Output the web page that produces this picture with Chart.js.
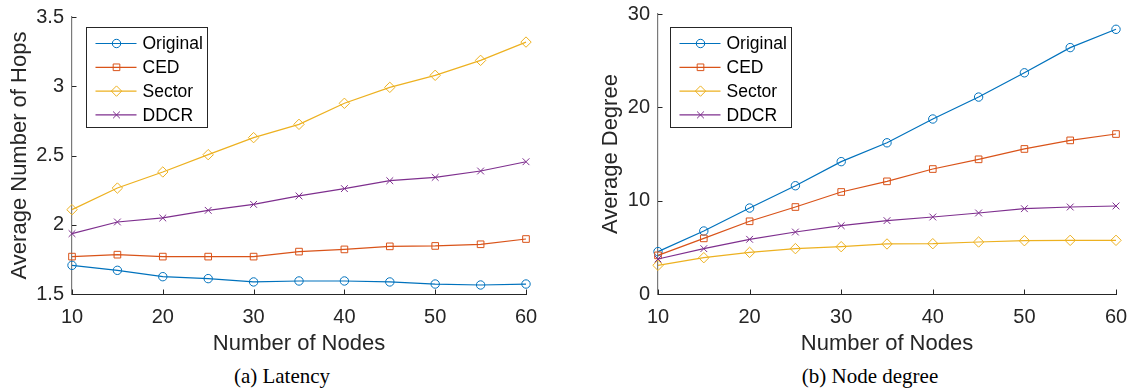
<!DOCTYPE html>
<html><head><meta charset="utf-8">
<script src="https://cdn.jsdelivr.net/npm/chart.js@4.4.1/dist/chart.umd.min.js"></script>
<style>
html,body{margin:0;padding:0;background:#fff;width:1130px;height:388px;overflow:hidden}
.panel{position:absolute;top:0}
.cap{position:absolute;font-family:"Liberation Serif","Times New Roman",serif;font-size:21px;color:#000;white-space:nowrap;transform:translate(-50%,-50%)}
</style></head><body>
<canvas id="c1" class="panel" width="560" height="360" style="left:0"></canvas>
<canvas id="c2" class="panel" width="565" height="360" style="left:565px"></canvas>
<div class="cap" style="left:282px;top:376px">(a) Latency</div>
<div class="cap" style="left:870px;top:376px">(b) Node degree</div>
<script>
// ---- data ----
const nodes = [10, 15, 20, 25, 30, 35, 40, 45, 50, 55, 60];
const seriesNames = ['Original', 'CED', 'Sector', 'DDCR'];
const hopsOriginal = [1.707, 1.671, 1.625, 1.611, 1.587, 1.594, 1.594, 1.587, 1.572, 1.565, 1.572];
const hopsCED      = [1.770, 1.784, 1.770, 1.770, 1.770, 1.806, 1.822, 1.844, 1.847, 1.859, 1.897];
const hopsSector   = [2.109, 2.265, 2.381, 2.506, 2.629, 2.725, 2.877, 2.992, 3.079, 3.187, 3.319];
const hopsDDCR     = [1.936, 2.020, 2.049, 2.104, 2.147, 2.208, 2.261, 2.318, 2.342, 2.388, 2.455];
const degOriginal  = [4.54, 6.75, 9.21, 11.6, 14.18, 16.2, 18.75, 21.1, 23.7, 26.4, 28.36];
const degCED       = [4.14, 5.96, 7.79, 9.32, 10.93, 12.07, 13.39, 14.43, 15.54, 16.46, 17.14];
const degSector    = [3.07, 3.89, 4.46, 4.86, 5.07, 5.36, 5.39, 5.57, 5.71, 5.75, 5.75];
const degDDCR      = [3.75, 4.86, 5.86, 6.64, 7.32, 7.86, 8.25, 8.68, 9.14, 9.32, 9.43];
const xTicks = [10, 20, 30, 40, 50, 60];
const hopsTicks = [1.5, 2, 2.5, 3, 3.5];
const degTicks = [0, 10, 20, 30];

// ---- styles ----
const colors = ['#0072BD', '#D95319', '#EDB120', '#7E2F8E'];
const markers = ['circle', 'rect', 'rectRot', 'crossRot'];
const radii = [4.2, 4.7, 5.2, 4.8];
const drawOrder = [4, 3, 2, 1];
const axisDark = '#262626';
const sans = '"Liberation Sans", Arial, Helvetica, sans-serif';

function drawMarker(ctx, style, r, x, y) {
  ctx.beginPath();
  if (style === 'circle') {
    ctx.arc(x, y, r, 0, Math.PI * 2);
  } else if (style === 'rect') {
    const s = Math.SQRT1_2 * r;
    ctx.rect(x - s, y - s, 2 * s, 2 * s);
  } else if (style === 'rectRot') {
    ctx.moveTo(x - r, y); ctx.lineTo(x, y - r); ctx.lineTo(x + r, y); ctx.lineTo(x, y + r); ctx.closePath();
  } else if (style === 'crossRot') {
    const d = Math.SQRT1_2 * r;
    ctx.moveTo(x - d, y - d); ctx.lineTo(x + d, y + d);
    ctx.moveTo(x + d, y - d); ctx.lineTo(x - d, y + d);
  }
  ctx.stroke();
}

const matlabDecor = {
  id: 'matlabDecor',
  afterDraw(chart, args, opts) {
    const { ctx, chartArea: ca, scales: { x, y } } = chart;
    ctx.save();
    // inward tick marks
    ctx.strokeStyle = axisDark; ctx.lineWidth = 1;
    x.ticks.forEach(t => {
      const px = Math.round(x.getPixelForValue(t.value)) + 0.5;
      ctx.beginPath(); ctx.moveTo(px, ca.bottom); ctx.lineTo(px, ca.bottom - 4.5); ctx.stroke();
    });
    y.ticks.forEach(t => {
      const py = Math.round(y.getPixelForValue(t.value)) + 0.5;
      ctx.beginPath(); ctx.moveTo(ca.left, py); ctx.lineTo(ca.left + 4.5, py); ctx.stroke();
    });
    // legend box
    const x0 = Math.round(ca.left + opts.dx) + 0.5, y0 = opts.top + 0.5, w = 121, h = 100;
    ctx.fillStyle = '#fff'; ctx.fillRect(x0, y0, w, h);
    ctx.strokeStyle = axisDark; ctx.lineWidth = 1; ctx.strokeRect(x0, y0, w, h);
    ctx.font = '17.5px ' + sans; ctx.textBaseline = 'middle'; ctx.textAlign = 'left';
    chart.data.datasets.forEach((ds, i) => {
      const cy = y0 + 16 + i * 23.8;
      ctx.strokeStyle = ds.borderColor; ctx.lineWidth = 1.2;
      ctx.beginPath(); ctx.moveTo(x0 + 9, cy); ctx.lineTo(x0 + 50, cy); ctx.stroke();
      ctx.lineWidth = 1;
      drawMarker(ctx, ds.pointStyle, ds.pointRadius, x0 + 30, cy);
      ctx.fillStyle = '#000';
      ctx.fillText(ds.label, x0 + 56, cy + 1);
    });
    ctx.restore();
  }
};

function makeChart(id, seriesList, yTickVals, yTitle, geo) {
  const datasets = seriesList.map((vals, i) => ({
    label: seriesNames[i],
    data: nodes.map((n, k) => ({ x: n, y: vals[k] })),
    borderColor: colors[i],
    backgroundColor: 'rgba(0,0,0,0)',
    pointBackgroundColor: 'rgba(0,0,0,0)',
    pointBorderColor: colors[i],
    pointStyle: markers[i],
    pointRadius: radii[i],
    pointBorderWidth: 1,
    borderWidth: 1.2,
    tension: 0,
    clip: false,
    order: drawOrder[i]
  }));
  return new Chart(document.getElementById(id), {
    type: 'line',
    data: { datasets },
    plugins: [matlabDecor],
    options: {
      responsive: false,
      animation: false,
      events: [],
      layout: { padding: { left: 0, top: geo.top, right: geo.right, bottom: 3 } },
      plugins: {
        legend: { display: false },
        tooltip: { enabled: false },
        matlabDecor: { dx: geo.legDx, top: 27 }
      },
      scales: {
        x: {
          type: 'linear',
          min: xTicks[0], max: xTicks[xTicks.length - 1],
          afterBuildTicks: s => { s.ticks = xTicks.map(v => ({ value: v })); },
          afterFit: s => { s.height = 63; s.paddingLeft = 0; s.paddingRight = 0; },
          grid: { display: false, drawTicks: false },
          border: { display: true, color: axisDark, width: 1 },
          ticks: { color: axisDark, font: { family: sans, size: 20 }, padding: 11, maxRotation: 0,
                   callback: v => String(v) },
          title: { display: true, text: 'Number of Nodes', color: axisDark,
                   font: { family: sans, size: 22 }, padding: { top: 0, bottom: 0 } }
        },
        y: {
          type: 'linear',
          min: yTickVals[0], max: yTickVals[yTickVals.length - 1],
          afterBuildTicks: s => { s.ticks = yTickVals.map(v => ({ value: v })); },
          afterFit: s => { s.width = geo.yWidth; s.paddingTop = 0; s.paddingBottom = 0; },
          grid: { display: false, drawTicks: false },
          border: { display: true, color: '#7a7a7a', width: 1.2 },
          ticks: { color: axisDark, font: { family: sans, size: 20 }, padding: 8,
                   callback: v => String(v) },
          title: { display: true, text: yTitle, color: axisDark,
                   font: { family: sans, size: 22 }, padding: { top: geo.yTitlePad, bottom: 0 } }
        }
      }
    }
  });
}

makeChart('c1', [hopsOriginal, hopsCED, hopsSector, hopsDDCR], hopsTicks, 'Average Number of Hops',
  { top: 17, right: 34, yWidth: 72, yTitlePad: 7, legDx: 13.5 });
makeChart('c2', [degOriginal, degCED, degSector, degDDCR], degTicks, 'Average Degree',
  { top: 14, right: 14, yWidth: 93, yTitlePad: 33, legDx: 11.5 });
</script>
</body></html>
